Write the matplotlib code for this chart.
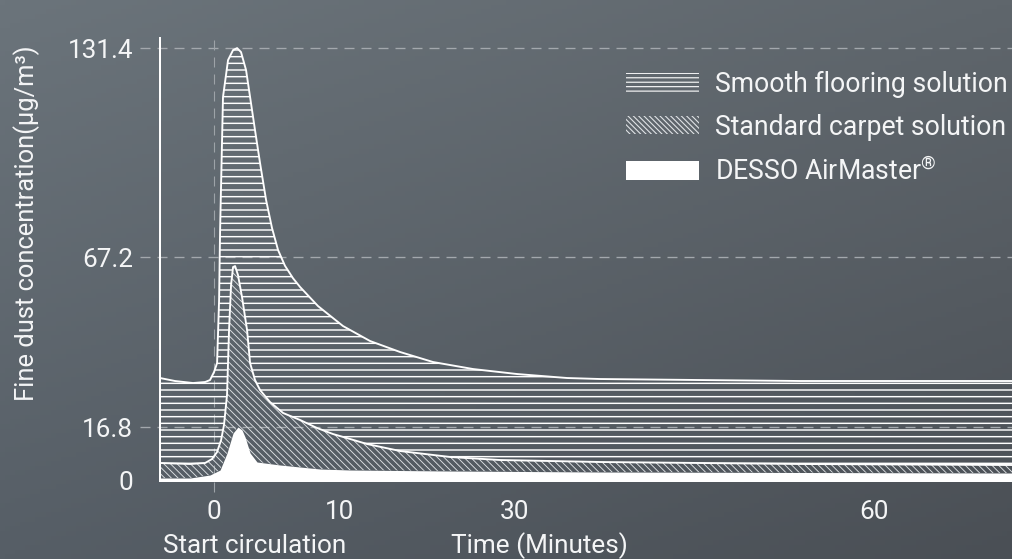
import numpy as np
import matplotlib.pyplot as plt
from matplotlib.patches import Patch

plt.rcParams['font.family'] = ['Roboto', 'DejaVu Sans']
plt.rcParams['mathtext.fontset'] = 'custom'
plt.rcParams['mathtext.rm'] = 'Roboto'
plt.rcParams['mathtext.default'] = 'regular'
plt.rcParams['lines.scale_dashes'] = False

# readings from the picture: minutes / fine dust concentration
smooth_min = [-4.29, -3.10, -1.67, -0.71, -0.32, 0.0, 0.24, 0.40, 0.48, 0.71, 1.11, 1.51, 1.83,
              2.14, 2.54, 2.86, 3.25, 3.65, 4.13, 4.60, 5.08, 5.63, 6.27, 6.83, 8.25, 10.34,
              13.45, 16.90, 20.69, 25.29, 30.25, 34.42, 37.17, 45.5, 53.83, 71.5]
smooth_val = [31.33, 30.44, 29.84, 30.14, 30.73, 33.11, 35.77, 54.45, 75.49, 116.35, 127.71, 130.79, 131.4,
              130.17, 124.64, 116.35, 106.21, 96.08, 84.71, 76.11, 69.35, 64.6, 60.9, 58.31, 52.67, 46.74,
              42.30, 39.04, 36.07, 33.99, 32.51, 31.33, 31.03, 30.73, 30.44, 30.44]

carpet_min = [-4.29, -1.90, -0.71, -0.16, 0.24, 0.56, 0.79, 1.03, 1.19, 1.35, 1.51, 1.67, 1.90,
              2.22, 2.62, 2.86, 3.25, 3.65, 4.44, 5.48, 6.83, 8.17, 9.44, 11.15, 13.10, 16.90,
              22.64, 28.39, 37.17, 53.83, 71.5]
carpet_val = [5.60, 5.29, 5.60, 6.84, 9.02, 12.76, 17.39, 26.29, 45.56, 58.90, 64.24, 64.53, 61.86,
              55.34, 45.56, 35.77, 30.73, 27.77, 24.21, 20.95, 18.88, 16.49, 14.62, 13.07, 11.51, 9.33,
              7.47, 6.53, 5.91, 5.29, 4.98]

air_min = [-4.29, -1.90, -0.32, 0.48, 1.03, 1.51, 1.90, 2.22, 2.46, 2.86, 3.41, 5.24, 8.41,
           11.15, 22.64, 37.17, 71.5]
air_val = [0.93, 0.93, 1.87, 3.42, 8.71, 14.93, 16.8, 15.87, 13.69, 8.71, 5.91, 4.98, 3.73,
           3.42, 3.11, 2.80, 2.49]

labels = ['Smooth flooring solution', 'Standard carpet solution', 'DESSO AirMaster$^{®}$']
x_ticks = [0, 10, 30, 60]
y_ticks = [0, 16.8, 67.2, 131.4]
y_grid = [16.8, 67.2, 131.4]

# the original axes are unevenly spaced
x_knots = [-10, 0, 10, 30, 60, 100]
x_pos = [-126, 0, 126, 300, 660, 1140]
y_knots = [0, 16.8, 67.2, 131.4, 200]
y_pos = [0, 54, 224, 433, 656.3]

txt = '#f4f5f6'
fs = 23.5

fig = plt.figure(figsize=(1012 / 80, 559 / 80), dpi=80)

# diagonal background gradient
bg = fig.add_axes([0, 0, 1, 1], zorder=-10)
gx, gy = np.meshgrid(np.linspace(0, 1, 200), np.linspace(0, 1, 120))
tl = np.array([0x6b, 0x74, 0x7b]) / 255
tr = np.array([0x5f, 0x66, 0x6c]) / 255
bl = np.array([0x56, 0x5e, 0x66]) / 255
br = np.array([0x4a, 0x4f, 0x55]) / 255
grad = (tl * ((1 - gx) * (1 - gy))[..., None] + tr * (gx * (1 - gy))[..., None]
        + bl * ((1 - gx) * gy)[..., None] + br * (gx * gy)[..., None])
bg.imshow(grad, aspect='auto', extent=[0, 1, 0, 1])
bg.axis('off')

ax = fig.add_axes([160 / 1012, 78 / 559, 852 / 1012, 443 / 559])
ax.patch.set_alpha(0)
ax.set_xscale('function', functions=(lambda v: np.interp(v, x_knots, x_pos),
                                     lambda p: np.interp(p, x_pos, x_knots)))
ax.set_yscale('function', functions=(lambda v: np.interp(v, y_knots, y_pos),
                                     lambda p: np.interp(p, y_pos, y_knots)))

# smooth flooring band (between carpet and smooth curves)
with plt.rc_context({'hatch.linewidth': 1.3}):
    ax.fill(np.concatenate([smooth_min, carpet_min[::-1]]),
            np.concatenate([smooth_val, carpet_val[::-1]]),
            facecolor='none', edgecolor='white', hatch='--', linewidth=0, zorder=2)
# carpet band (between airmaster and carpet)
with plt.rc_context({'hatch.linewidth': 0.8}):
    ax.fill(np.concatenate([carpet_min, air_min[::-1]]),
            np.concatenate([carpet_val, air_val[::-1]]),
            facecolor='none', edgecolor='#dfe2e5', hatch='\\\\\\\\', linewidth=0, zorder=2)
ax.fill_between(air_min, 0, air_val, color='white', linewidth=0, zorder=3)

ax.plot(smooth_min, smooth_val, color='white', lw=1.7, zorder=4)
ax.plot(carpet_min, carpet_val, color='white', lw=1.7, zorder=4)

ax.hlines(y_grid, -0.0235, 1, transform=ax.get_yaxis_transform(), colors='#a3a8ad',
          linestyles=(0, (9, 6.3)), lw=1.2, clip_on=False, zorder=1)
ax.vlines(0, -0.025, 1.008, transform=ax.get_xaxis_transform(), colors='#9da3a8',
          linestyles=(0, (9, 6.3)), lw=1.0, clip_on=False, zorder=1)

ax.set_xlim(-4.29, 71.5)
ax.set_ylim(0, 134.5)
ax.set_xticks(x_ticks)
ax.set_xticklabels([str(t) for t in x_ticks])
ax.set_yticks(y_ticks)
ax.set_yticklabels(['0', '16.8', '67.2', '131.4'])
ax.tick_params(axis='both', length=0, labelsize=fs, labelcolor=txt)
ax.tick_params(axis='x', pad=17)
ax.tick_params(axis='y', pad=24)
for s in ['top', 'right']:
    ax.spines[s].set_visible(False)
for s in ['left', 'bottom']:
    ax.spines[s].set_color('white')
    ax.spines[s].set_linewidth(1.8)

fig.text(255 / 1012, 1 - 546 / 559, 'Start circulation', ha='center', va='center',
         fontsize=fs, color=txt)
fig.text(539 / 1012, 1 - 546 / 559, 'Time (Minutes)', ha='center', va='center',
         fontsize=fs, color=txt)
fig.text(27 / 1012, 1 - 223 / 559, 'Fine dust concentration(µg/m³)', ha='center', va='center',
         rotation=90, fontsize=fs - 0.5, color=txt)

handles = [Patch(facecolor='none', edgecolor='white', hatch='---', linewidth=0),
           Patch(facecolor='none', edgecolor='#dfe2e5', hatch='\\\\\\\\\\', linewidth=0),
           Patch(facecolor='white', edgecolor='white', linewidth=0)]
leg = ax.legend(handles, labels, loc='upper left', bbox_to_anchor=(626 / 1012, 1 - 71 / 559),
                bbox_transform=fig.transFigure, frameon=False, fontsize=fs + 0.5,
                handlelength=2.73, handleheight=0.69, handletextpad=0.62,
                labelspacing=0.58, borderpad=0, borderaxespad=0)
for t in leg.get_texts():
    t.set_color(txt)

fig.savefig('out.png', dpi=80)
